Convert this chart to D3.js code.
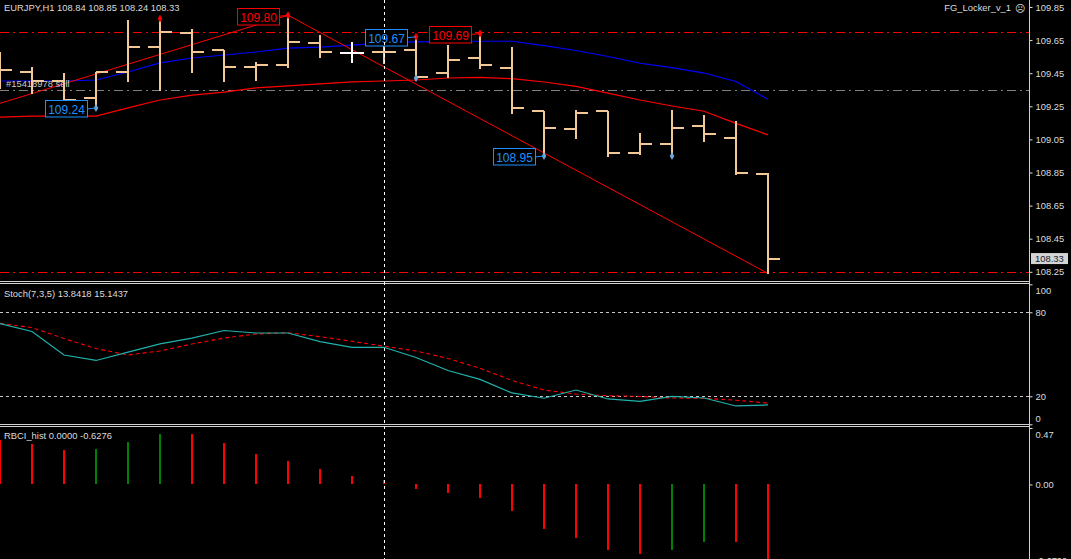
<!DOCTYPE html>
<html><head><meta charset="utf-8">
<script src="https://cdn.jsdelivr.net/npm/d3@7"></script>
<style>html,body{margin:0;padding:0;background:#000;overflow:hidden}svg{display:block;font-family:"Liberation Sans",Arial,sans-serif}</style>
</head><body><svg id="c" width="1071" height="559"></svg>
<script>
// ---------- data ----------
const chartTitle = "EURJPY,H1  108.84 108.85 108.24 108.33";
const expertName = "FG_Locker_v_1";
const orderLabel = "#15418978 sell";
const stochTitle = "Stoch(7,3,5) 13.8418 15.1437";
const rbciTitle = "RBCI_hist 0.0000 -0.6276";
const opens  = [109.52,109.46,109.40,109.30,109.46,109.61,109.69,109.59,109.49,109.50,109.63,109.57,109.58,109.59,109.45,109.54,109.48,109.22,109.11,109.22,108.97,109.02,109.13,109.06,108.84];
const highs  = [109.58,109.49,109.45,109.46,109.77,109.78,109.72,109.59,109.52,109.80,109.68,109.64,109.63,109.67,109.62,109.69,109.61,109.22,109.23,109.22,109.09,109.23,109.20,109.16,108.85];
const lows   = [109.36,109.33,109.29,109.24,109.40,109.35,109.46,109.40,109.41,109.49,109.55,109.52,109.51,109.42,109.43,109.48,109.21,108.95,109.06,108.95,108.96,108.95,109.04,108.84,108.24];
const closes = [109.47,109.40,109.29,109.46,109.61,109.70,109.58,109.49,109.50,109.64,109.58,109.57,109.58,109.43,109.53,109.50,109.24,109.12,109.21,108.97,109.02,109.12,109.08,108.85,108.33];
const maBlue = [109.403,109.403,109.403,109.409,109.457,109.512,109.542,109.560,109.578,109.602,109.608,109.620,109.633,109.639,109.642,109.643,109.643,109.617,109.587,109.551,109.510,109.484,109.451,109.400,109.292];
const maRed  = [109.184,109.191,109.191,109.191,109.240,109.288,109.318,109.336,109.361,109.373,109.385,109.397,109.403,109.409,109.421,109.425,109.417,109.397,109.370,109.330,109.288,109.252,109.220,109.147,109.077];
const stochMain   = [71.9,66.3,49.5,45.6,51.6,57.4,61.6,67.0,65.2,65.2,59.0,55.0,55.0,47.7,38.4,32.1,22.4,18.6,24.5,18.1,16.4,20.0,18.8,13.1,13.84];
const stochSignal = [72.1,69.1,61.3,54.1,49.5,52.4,57.4,61.6,64.5,65.4,62.6,59.3,55.8,52.4,47.0,40.0,31.3,24.5,21.6,20.4,19.9,18.8,18.6,17.2,15.14];
const rbciValues  = [0.367,0.333,0.283,0.292,0.350,0.417,0.417,0.342,0.250,0.192,0.125,0.067,0.033,-0.042,-0.075,-0.117,-0.225,-0.367,-0.442,-0.542,-0.583,-0.542,-0.483,-0.483,-0.6276];
const rbciRising  = [0,0,0,1,1,1,0,0,0,0,0,0,0,0,0,0,0,0,0,0,0,1,1,0,0];
const priceTicks = [109.85,109.65,109.45,109.25,109.05,108.85,108.65,108.45,108.25];
const lastPrice = 108.33;
const stochTicks = [100,80,20,0];
const stochLevels = [80,20];
const rbciTicks = [0.47,0.00,-0.6709];
const redLevels = [109.70,108.25];
const grayLevels = [109.35];
const highPivots = [5,9,13,15];           // bar indices marked at their high
const lowPivots = [3,13,17,21];           // bar indices marked at their low
const labelHigh = [{i:9,p:109.80},{i:15,p:109.69}];
const labelLow  = [{i:3,p:109.24},{i:13,p:109.67},{i:17,p:108.95}];
const trendLines = [[[0,109.268],[9,109.80]],[[9,109.80],[24,108.24]]];
const cursorBar = 11;
const crossBar = 12;

// ---------- scales ----------
const svg = d3.select('#c');
const AX = 1029;
const x = d3.scaleLinear().domain([0,24]).range([0,768]);
const yP = d3.scaleLinear().domain([108.25,109.85]).range([271.8,7]);
const yS = d3.scaleLinear().domain([0,100]).range([424.3,284.3]);
const yR = d3.scaleLinear().domain([-0.6709,0.47]).range([565,428]);
const BAR = '#f2c898', RED = '#ff0000', BLUE = '#1e90ff', TXT = '#dcdcdc';

svg.append('rect').attr('width',1071).attr('height',559).attr('fill','#000');

// ---------- main panel ----------
const gMain = svg.append('g');
function hLine(g, yy, color, dash){
  g.append('line').attr('x1',0).attr('x2',AX).attr('y1',Math.round(yy)+0.5).attr('y2',Math.round(yy)+0.5)
   .attr('stroke',color).attr('stroke-width',1).attr('stroke-dasharray',dash);
}
redLevels.forEach(p=>hLine(gMain,yP(p),RED,'9,4,2,4'));
grayLevels.forEach(p=>hLine(gMain,yP(p),'#808080','9,4,2,4'));

const line = d3.line().x((d,i)=>x(i));
gMain.append('path').attr('d',line.y(d=>yP(d))(maRed)).attr('fill','none').attr('stroke',RED).attr('stroke-width',1.2);
gMain.append('path').attr('d',line.y(d=>yP(d))(maBlue)).attr('fill','none').attr('stroke','#0000ff').attr('stroke-width',1.2);

trendLines.forEach(t=>{
  gMain.append('line').attr('x1',x(t[0][0])).attr('y1',yP(t[0][1])).attr('x2',x(t[1][0])).attr('y2',yP(t[1][1]))
    .attr('stroke',RED).attr('stroke-width',1);
});

// OHLC bars
opens.forEach((o,i)=>{
  const cx = Math.round(x(i));
  const col = i===cursorBar ? '#ffffff' : BAR;
  const g = gMain.append('g').attr('fill',col).attr('shape-rendering','crispEdges');
  const yh = Math.round(yP(highs[i])), yl = Math.round(yP(lows[i]));
  g.append('rect').attr('x',cx-1).attr('y',yh).attr('width',2).attr('height',Math.max(1,yl-yh+1));
  g.append('rect').attr('x',cx-12).attr('y',Math.round(yP(o))-1).attr('width',12).attr('height',2);
  g.append('rect').attr('x',cx).attr('y',Math.round(yP(closes[i]))-1).attr('width',12).attr('height',2);
});

// pivot markers
const diamond = d3.symbol().type(d3.symbolDiamond).size(18);
highPivots.forEach(i=>gMain.append('path').attr('d',diamond()).attr('transform',`translate(${x(i)},${yP(highs[i])})`).attr('fill',RED));
lowPivots.forEach(i=>gMain.append('path').attr('d',diamond()).attr('transform',`translate(${x(i)},${yP(lows[i])})`).attr('fill','#6fa8dc'));

// price labels with connectors
function priceLabel(d,color){
  const mx = x(d.i), my = yP(d.p);
  const bw = 42, bh = 16.5, bx = mx-51, by = my-7.5;
  gMain.append('line').attr('x1',bx+bw).attr('x2',mx).attr('y1',my+1).attr('y2',my).attr('stroke',color);
  gMain.append('rect').attr('x',bx+0.5).attr('y',Math.round(by)+0.5).attr('width',bw).attr('height',bh).attr('fill','#000').attr('stroke',color);
  gMain.append('text').attr('x',bx+bw/2+0.5).attr('y',Math.round(by)+13.5).attr('text-anchor','middle')
    .attr('fill',color).attr('font-size','12px').text(d3.format('.2f')(d.p));
}
labelHigh.forEach(d=>priceLabel(d,RED));
labelLow.forEach(d=>priceLabel(d,BLUE));

// texts
gMain.append('text').attr('x',4).attr('y',11).attr('fill',TXT).attr('font-size','9.4px').text(chartTitle);
gMain.append('text').attr('x',6).attr('y',87).attr('fill','#c8c8c8').attr('font-size','9.4px').text(orderLabel);
gMain.append('text').attr('x',1011).attr('y',11).attr('text-anchor','end').attr('fill',TXT).attr('font-size','9.4px').text(expertName);
gMain.append('text').attr('x',1015).attr('y',12).attr('fill',TXT).attr('font-size','10px').text('☹');

// price axis
const pAxis = d3.axisRight(yP).tickValues(priceTicks).tickSize(3).tickPadding(3).tickFormat(d3.format('.2f'));
const gPA = svg.append('g').attr('transform',`translate(${AX+0.5},0)`).call(pAxis);
gPA.select('.domain').remove();
gPA.selectAll('line').attr('stroke','#e0e0e0');
gPA.selectAll('text').attr('fill',TXT).attr('font-size','9.4px').attr('font-family','"Liberation Sans",Arial,sans-serif');
// last price box
const lp = svg.append('g').attr('transform',`translate(${AX+2},${yP(lastPrice)})`);
lp.append('rect').attr('x',0).attr('y',-5.5).attr('width',37).attr('height',11).attr('fill','#d4d4d4');
lp.append('text').attr('x',4).attr('y',3.5).attr('fill','#102030').attr('font-size','9.4px').text(d3.format('.2f')(lastPrice));

// ---------- stochastic panel ----------
const gS = svg.append('g');
stochLevels.forEach(v=>hLine(gS,yS(v),'#c8c8c8','3,3'));
gS.append('path').attr('d',d3.line().x((d,i)=>x(i)).y(d=>yS(d))(stochSignal)).attr('fill','none').attr('stroke',RED).attr('stroke-width',1.1).attr('stroke-dasharray','4,3');
gS.append('path').attr('d',d3.line().x((d,i)=>x(i)).y(d=>yS(d))(stochMain)).attr('fill','none').attr('stroke','#20b2aa').attr('stroke-width',1.2);
gS.append('text').attr('x',4).attr('y',297).attr('fill',TXT).attr('font-size','9.4px').text(stochTitle);
const sAxis = d3.axisRight(yS).tickValues(stochTicks).tickSize(3).tickPadding(3).tickFormat(d3.format('d'));
const gSA = svg.append('g').attr('transform',`translate(${AX+0.5},0)`).call(sAxis);
gSA.select('.domain').remove();
gSA.selectAll('line').attr('stroke','#e0e0e0');
gSA.selectAll('text').attr('fill',TXT).attr('font-size','9.4px').attr('font-family','"Liberation Sans",Arial,sans-serif')
  .attr('dy',d=>d===100?'1em':(d===0?'-0.35em':'0.32em'));

// ---------- RBCI panel ----------
const gR = svg.append('g').attr('shape-rendering','crispEdges');
rbciValues.forEach((v,i)=>{
  const y0 = yR(0), y1 = yR(v);
  gR.append('rect').attr('x',Math.round(x(i))-1).attr('y',Math.min(y0,y1)).attr('width',2).attr('height',Math.abs(y1-y0))
    .attr('fill',rbciRising[i]?'#008000':RED);
});
svg.append('text').attr('x',4).attr('y',439).attr('fill',TXT).attr('font-size','9.4px').text(rbciTitle);
const rAxis = d3.axisRight(yR).tickValues(rbciTicks).tickSize(3).tickPadding(3).tickFormat(d=>d===0?'0.00':(d<0?d.toFixed(4):d.toFixed(2)));
const gRA = svg.append('g').attr('transform',`translate(${AX+0.5},0)`).call(rAxis);
gRA.select('.domain').remove();
gRA.selectAll('line').attr('stroke','#e0e0e0');
gRA.selectAll('text').attr('fill',TXT).attr('font-size','9.4px').attr('font-family','"Liberation Sans",Arial,sans-serif')
  .attr('dy',d=>d===0.47?'1em':(d<0?'-0.2em':'0.32em'));

// ---------- frame ----------
const frame = svg.append('g').attr('stroke','#d0d0d0').attr('stroke-width',1).attr('shape-rendering','crispEdges');
[281,283,424,426].forEach(yy=>frame.append('line').attr('x1',0).attr('x2',AX).attr('y1',yy+0.5).attr('y2',yy+0.5));
frame.append('line').attr('x1',AX+0.5).attr('x2',AX+0.5).attr('y1',0).attr('y2',559);
// crosshair vertical dashed line at bar
svg.append('line').attr('x1',Math.round(x(crossBar))+0.5).attr('x2',Math.round(x(crossBar))+0.5).attr('y1',0).attr('y2',559)
  .attr('stroke','#ffffff').attr('stroke-dasharray','3,3').attr('shape-rendering','crispEdges');
</script></body></html>
